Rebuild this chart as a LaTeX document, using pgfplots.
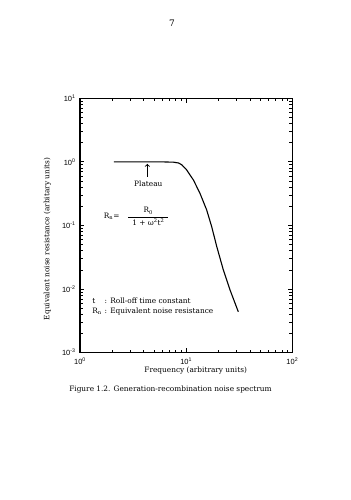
\documentclass[border=0pt]{standalone}
\usepackage{fontspec}
\setmainfont{DejaVu Serif}
\newfontfamily\hv{Liberation Sans}
\usepackage{pgfplots}
\pgfplotsset{compat=1.18}
\begin{document}
\begin{tikzpicture}
\path[use as bounding box, fill=white] (0,0) rectangle (351bp,500bp);
\begin{axis}[
  at={(80bp,147.3bp)}, anchor=south west,
  scale only axis, width=212.3bp, height=254.4bp,
  xmode=log, ymode=log,
  xmin=1, xmax=100, ymin=1e-3, ymax=10,
  xtick={1,10,100},
  xticklabels={10\textsuperscript{0},10\textsuperscript{1},10\textsuperscript{2}},
  ytick={0.001,0.01,0.1,1,10},
  yticklabels={10\textsuperscript{-3},10\textsuperscript{-2},10\textsuperscript{-1},10\textsuperscript{0},10\textsuperscript{1}},
  minor xtick={2,3,4,5,6,7,8,9,20,30,40,50,60,70,80,90},
  minor ytick={0.002,0.003,0.004,0.005,0.006,0.007,0.008,0.009,0.02,0.03,0.04,0.05,0.06,0.07,0.08,0.09,0.2,0.3,0.4,0.5,0.6,0.7,0.8,0.9,2,3,4,5,6,7,8,9},
  xtick pos=both, ytick pos=both, tick align=inside,
  major tick length=4.5bp, minor tick length=3bp,
  every tick/.style={black, line width=0.9bp},
  axis line style={line width=1.1bp},
  tick label style={font=\hv\fontsize{7.5}{8}\selectfont},
  xticklabel style={yshift=-2bp},
  yticklabel style={xshift=-1bp},
]
\addplot[black, line width=1.1bp, no marks] coordinates {
(2.09,1.0) (4,1.0) (6,1.0) (7.6,0.99) (8.5,0.96) (9.1,0.90) (10.1,0.75)
(11.7,0.52) (13.5,0.32) (15.6,0.176) (17.4,0.096) (19.4,0.047)
(22.4,0.020) (25.9,0.0097) (31.0,0.0044)
};
\draw[->, line width=0.9bp] (axis cs:4.31,0.587) -- (axis cs:4.31,0.93);
\node[font=\fontsize{7.4}{9}\selectfont] at (axis cs:4.40,0.459) {Plateau};
\node[font=\fontsize{7.4}{9}\selectfont] at (axis cs:1.99,0.1416) {R\textsubscript{n}=};
\node[font=\fontsize{7.4}{9}\selectfont, inner sep=0pt] at (axis cs:4.40,0.133)
  {\begin{tabular}{@{\hspace{4bp}}c@{\hspace{4bp}}}R\textsubscript{0}\\[1bp]\hline\rule{0pt}{9bp}1 + ω\textsuperscript{2}t\textsuperscript{2}\end{tabular}};
\node[font=\fontsize{7.4}{9}\selectfont, anchor=west, inner sep=0pt] at (axis cs:1.3,0.0053)
  {\begin{tabular}{@{}l@{\hspace{3bp}}l@{}}t & : Roll-off time constant\\[1bp] R\textsubscript{n} & : Equivalent noise resistance\end{tabular}};
\end{axis}
\node[font=\fontsize{7.4}{9}\selectfont] at (195.7bp,129.3bp) {Frequency (arbitrary units)};
\node[font=\fontsize{7.4}{9}\selectfont, rotate=90] at (47.3bp,261bp) {Equivalent noise resistance (arbitary units)};
\node[font=\fontsize{7.4}{9}\selectfont] at (170.5bp,110bp) {Figure 1.2. Generation-recombination noise spectrum};
\node[font=\fontsize{9}{10}\selectfont] at (172bp,476.7bp) {7};
\end{tikzpicture}
\end{document}
